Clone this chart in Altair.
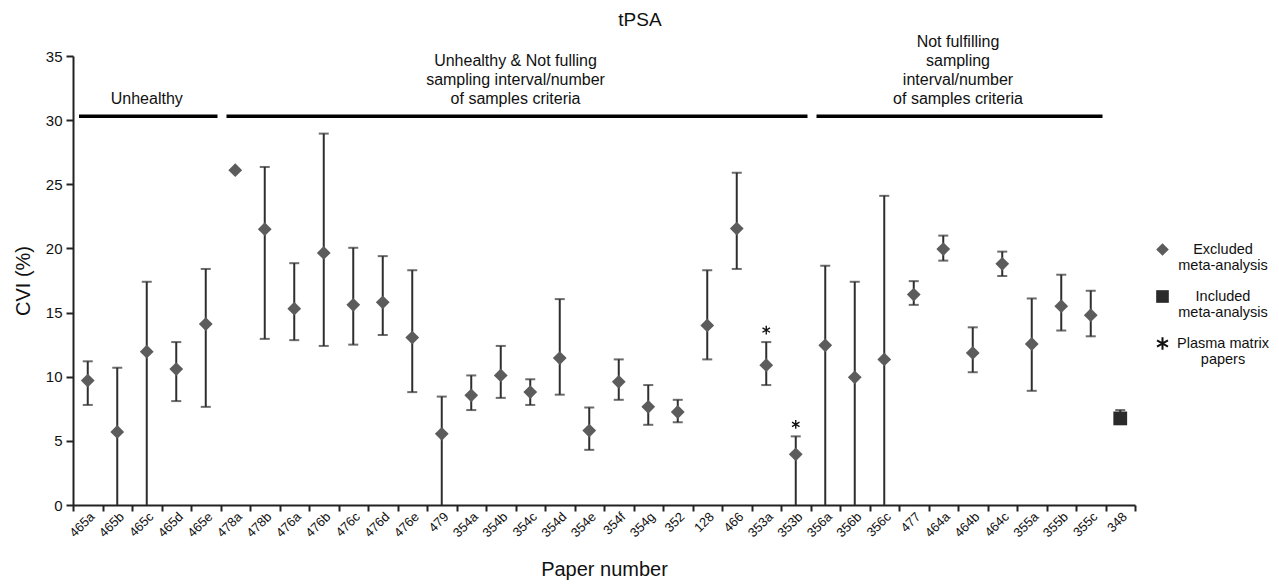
import json
import altair as alt
import pandas as pd

papers = ["465a", "465b", "465c", "465d", "465e", "478a", "478b", "476a", "476b", "476c",
          "476d", "476e", "479", "354a", "354b", "354c", "354d", "354e", "354f", "354g",
          "352", "128", "466", "353a", "353b", "356a", "356b", "356c", "477", "464a",
          "464b", "464c", "355a", "355b", "355c", "348"]
cvi = [9.7, 5.7, 11.95, 10.6, 14.1, 26.1, 21.5, 15.3, 19.65, 15.6,
       15.8, 13.05, 5.55, 8.55, 10.1, 8.8, 11.45, 5.8, 9.6, 7.65,
       7.25, 14.0, 21.55, 10.9, 3.95, 12.45, 9.95, 11.35, 16.4, 19.95,
       11.85, 18.8, 12.55, 15.5, 14.8, 6.75]
lower = [7.8, 0, 0, 8.1, 7.65, None, 12.95, 12.85, 12.4, 12.5,
         13.25, 8.8, 0, 7.4, 8.35, 7.8, 8.6, 4.3, 8.2, 6.25,
         6.45, 11.35, 18.4, 9.35, 0, 0, 0, 0, 15.6, 19.05,
         10.35, 17.85, 8.9, 13.6, 13.15, 6.5]
upper = [11.2, 10.7, 17.4, 12.7, 18.4, None, 26.35, 18.85, 28.95, 20.05,
         19.4, 18.3, 8.45, 10.1, 12.4, 9.8, 16.05, 7.6, 11.35, 9.35,
         8.2, 18.3, 25.9, 12.7, 5.35, 18.65, 17.4, 24.1, 17.45, 21.0,
         13.85, 19.75, 16.1, 17.95, 16.7, 7.4]
included = ["348"]
plasma = ["353a", "353b"]

group_text = [["Unhealthy"],
              ["Unhealthy & Not fulling", "sampling interval/number", "of samples criteria"],
              ["Not fulfilling", "sampling", "interval/number", "of samples criteria"]]
group_first = ["465a", "478a", "356a"]
group_last = ["465e", "353b", "355c"]
bracket_level = 30.3

kinds = ["Excluded meta-analysis", "Included meta-analysis", "Plasma matrix papers"]

FONT = "Liberation Sans"
STAR = ("M-0.16,-1 L0.16,-1 L0.16,1 L-0.16,1 Z "
        "M0.786,-0.639 L0.946,-0.361 L-0.786,0.639 L-0.946,0.361 Z "
        "M-0.946,-0.361 L-0.786,-0.639 L0.946,0.361 L0.786,0.639 Z")

idx = {p: i for i, p in enumerate(papers)}
df = pd.DataFrame({
    "paper": papers,
    "i": list(range(len(papers))),
    "cvi": cvi,
    "lower": lower,
    "upper": upper,
    "kind": [kinds[1] if p in included else kinds[0] for p in papers],
})
bars = df.dropna(subset=["lower", "upper"])
caps_low = bars[bars["lower"] > 0]
stars = df[df["paper"].isin(plasma)].assign(kind=kinds[2])

groups = pd.DataFrame({
    "gx": [idx[a] - 0.5 for a in group_first],
    "gx2": [idx[b] + 0.5 for b in group_last],
    "level": [bracket_level] * 3,
})
groups["gc"] = (groups["gx"] + groups["gx2"]) / 2

# one row per text line, numbered from the bottom line of its group
line_rows = []
for g, lines in enumerate(group_text):
    n = len(lines)
    for k, t in enumerate(lines):
        line_rows.append({"gc": groups["gc"][g], "level": bracket_level, "text": t, "k": n - 1 - k})
text_lines = pd.DataFrame(line_rows)

xscale = alt.Scale(domain=[-0.5, len(papers) - 0.5], nice=False, zero=False)
yscale = alt.Scale(domain=[0, 35], nice=False)
names_js = json.dumps(papers)
YT = "CVI (%)"

x_main = alt.X("i:Q", scale=xscale, title="Paper number",
               axis=alt.Axis(values=list(range(len(papers))), labelExpr=f"{names_js}[datum.value]",
                             ticks=False, labelAngle=-45, labelFontSize=13, labelPadding=5,
                             labelOverlap=False, labelBound=False, labelFlush=False,
                             titleFontSize=20, titleFont=FONT, titleFontWeight="normal",
                             titlePadding=20, titleColor="#111", domainColor="#222", domainWidth=2,
                             labelColor="#111", labelFont=FONT, orient="bottom", grid=False))
y_main = alt.Y("lower:Q", scale=yscale, title=YT,
               axis=alt.Axis(values=[0, 5, 10, 15, 20, 25, 30, 35], grid=False,
                             labelFontSize=15, labelFont=FONT, labelColor="#111",
                             tickSize=7, tickColor="#222", tickWidth=2, labelPadding=4,
                             domainColor="#222", domainWidth=2,
                             titleFontSize=20, titleFont=FONT, titleFontWeight="normal",
                             titlePadding=12, titleColor="#111"))


def xq(field):
    return alt.X(field, scale=xscale, axis=None)


def yq(field):
    return alt.Y(field, scale=yscale, title=YT)


ERR = "#2e2e2e"
rules = alt.Chart(bars).mark_rule(color=ERR, strokeWidth=2).encode(
    x=x_main, y=y_main, y2="upper:Q")
cap_up = alt.Chart(bars).mark_tick(color=ERR, thickness=2, size=10, orient="horizontal").encode(
    x=xq("i:Q"), y=yq("upper:Q"))
cap_lo = alt.Chart(caps_low).mark_tick(color=ERR, thickness=2, size=10, orient="horizontal").encode(
    x=xq("i:Q"), y=yq("lower:Q"))

shape_scale = alt.Scale(domain=kinds, range=["diamond", "square", STAR])
color_scale = alt.Scale(domain=kinds, range=["#5c5c5c", "#2a2a2a", "#111111"])
legend = alt.Legend(title=None, orient="none", legendX=1082, legendY=186,
                    labelFont=FONT, labelFontSize=14.5, labelColor="#111",
                    labelAlign="center", labelOffset=53, labelLimit=0,
                    symbolSize=160, rowPadding=15,
                    labelExpr="datum.label == 'Plasma matrix papers' ? ['Plasma matrix', 'papers'] : split(datum.label, ' ')")

points = alt.Chart(df).mark_point(filled=True, size=190, opacity=1).encode(
    x=xq("i:Q"), y=yq("cvi:Q"),
    shape=alt.Shape("kind:N", scale=shape_scale, legend=legend),
    color=alt.Color("kind:N", scale=color_scale, legend=legend))
star_pts = alt.Chart(stars).mark_point(filled=True, size=75, opacity=1, yOffset=-12).encode(
    x=xq("i:Q"), y=yq("upper:Q"),
    shape=alt.Shape("kind:N", scale=shape_scale, legend=legend),
    color=alt.Color("kind:N", scale=color_scale, legend=legend))

brackets = alt.Chart(groups).mark_rule(color="#000", strokeWidth=3.5, xOffset=6, x2Offset=-3).encode(
    x=alt.X("gx:Q", scale=xscale,
            axis=alt.Axis(values=[i - 0.5 for i in range(len(papers) + 1)], labels=False,
                          ticks=True, tickSize=6, tickWidth=2, tickColor="#222",
                          domain=False, title=None, orient="bottom", grid=False)),
    x2="gx2:Q",
    y=yq("level:Q"))

text_layers = []
for k in range(4):
    text_layers.append(
        alt.Chart(text_lines[text_lines["k"] == k]).mark_text(
            font=FONT, fontSize=16, color="#111", baseline="bottom", dy=-9 - 19 * k).encode(
            x=xq("gc:Q"), y=yq("level:Q"), text="text:N"))

chart = alt.layer(rules, cap_up, cap_lo, points, star_pts, brackets, *text_layers).resolve_axis(
    x="independent").properties(
    width=1062, height=449,
    padding={"left": 65, "top": 48, "right": 136, "bottom": 76},
    autosize=alt.AutoSizeParams(type="none"),
    title=alt.TitleParams("tPSA", font=FONT, fontSize=19, fontWeight="normal", color="#111",
                          offset=4, dx=36),
).configure_view(stroke=None).configure_axis(grid=False)

chart.save("out.html", embed_options={"renderer": "svg", "actions": False})
